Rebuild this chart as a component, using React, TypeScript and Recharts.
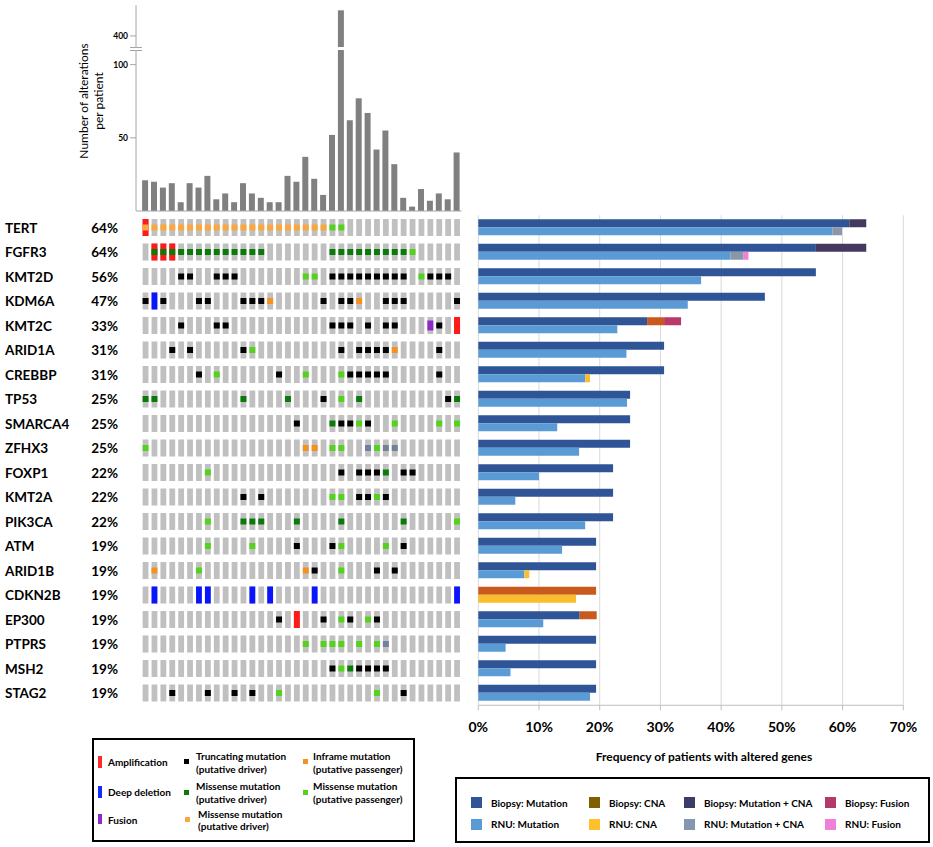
import React from 'react';
import { BarChart, Bar, XAxis, YAxis, CartesianGrid, ScatterChart, Scatter } from 'recharts';

// alterations per patient (36 patients, one column each)
const ALTERATION_COUNTS = [
  21, 20, 16, 19, 6, 19, 16, 24, 8, 12, 6, 19, 12, 9, 6, 6, 24, 20,
  37, 22, 11, 52, 458, 62, 77, 67, 42, 55, 32, 9, 3, 15, 7, 12, 8, 40,
];
const PATIENTS = ALTERATION_COUNTS.map((_, i) => `P${i + 1}`);

const GENES = [
  'TERT', 'FGFR3', 'KMT2D', 'KDM6A', 'KMT2C', 'ARID1A', 'CREBBP', 'TP53', 'SMARCA4', 'ZFHX3',
  'FOXP1', 'KMT2A', 'PIK3CA', 'ATM', 'ARID1B', 'CDKN2B', 'EP300', 'PTPRS', 'MSH2', 'STAG2',
];
const GENE_PCT = [
  '64%', '64%', '56%', '47%', '33%', '31%', '31%', '25%', '25%', '25%',
  '22%', '22%', '22%', '19%', '19%', '19%', '19%', '19%', '19%', '19%',
];

// oncoprint: patient columns altered, per gene (same order as GENES)
const AMPLIFICATION = [[0], [1, 2, 3], [], [], [35], [], [], [], [], [], [], [], [], [], [], [], [17], [], [], []];
const DEEP_DELETION = [[], [], [], [1], [], [], [], [], [], [], [], [], [], [], [], [1, 6, 7, 12, 14, 19, 35], [], [], [], []];
const FUSION = [[], [], [], [], [32], [], [], [], [], [], [], [], [], [], [], [], [], [], [], []];
const TRUNCATING = [
  [], [],
  [4, 5, 8, 9, 10, 21, 22, 23, 24, 25, 26, 27, 28, 29, 32, 33, 34],
  [0, 2, 6, 7, 11, 12, 13, 20, 22, 23, 27, 28, 29, 35],
  [4, 8, 9, 21, 22, 23, 25, 27, 28, 33],
  [3, 5, 11, 22, 24, 25, 26, 27, 33],
  [6, 15, 23, 24, 25, 26, 27, 33],
  [20, 34],
  [17, 22, 23, 25],
  [],
  [22, 24, 25, 26, 29, 30],
  [11, 13, 24, 25, 27],
  [],
  [17, 21, 29],
  [19, 26, 28],
  [],
  [15, 20, 23, 26],
  [],
  [21, 24, 25, 26, 27],
  [3, 7, 10, 12, 29],
];
const MISSENSE_DRIVER = [
  [],
  [1, 2, 3, 4, 5, 6, 7, 8, 9, 10, 11, 12, 13, 21, 22, 23, 24, 25, 26, 27, 28, 29],
  [], [], [], [], [],
  [0, 1, 11, 16, 24, 35],
  [21],
  [],
  [27],
  [],
  [11, 12, 13, 17, 22, 29],
  [], [], [], [], [],
  [23],
  [],
];
const MISSENSE_PASSENGER = [
  [21, 22], [30], [18, 19, 31], [], [], [12], [8, 18, 22], [22], [24, 28, 33, 35], [0, 21, 22, 26],
  [7], [21, 22, 26], [7, 35], [7, 12, 22, 27], [6, 22], [], [22, 25], [18, 20, 21, 22, 24, 26], [22], [15, 26],
];
const MISSENSE_DRIVER_ORANGE = [
  [0, 1, 2, 3, 4, 5, 6, 7, 8, 9, 10, 11, 12, 13, 14, 15, 16, 17, 18, 19, 20],
  [], [], [], [], [], [], [], [], [], [], [], [], [], [], [], [], [], [], [],
];
const INFRAME = [[], [], [], [14, 24], [], [28], [], [], [], [18, 19], [], [], [], [], [1, 18], [], [], [], [], []];
const OTHER_MUT = [[], [], [], [], [], [], [], [], [], [25, 27, 28], [], [], [], [], [], [], [], [27], [], []];

// frequency of patients with altered genes (%)
const BIOPSY_MUT = [61.1, 55.6, 55.6, 47.2, 27.8, 30.6, 30.6, 25.0, 25.0, 25.0, 22.2, 22.2, 22.2, 19.4, 19.4, 0, 16.7, 19.4, 19.4, 19.4];
const BIOPSY_CNA = [0, 0, 0, 0, 2.8, 0, 0, 0, 0, 0, 0, 0, 0, 0, 0, 19.4, 2.8, 0, 0, 0];
const BIOPSY_MUT_CNA = [2.8, 8.3, 0, 0, 0, 0, 0, 0, 0, 0, 0, 0, 0, 0, 0, 0, 0, 0, 0, 0];
const BIOPSY_FUSION = [0, 0, 0, 0, 2.8, 0, 0, 0, 0, 0, 0, 0, 0, 0, 0, 0, 0, 0, 0, 0];
const RNU_MUT = [58.3, 41.5, 36.7, 34.5, 22.9, 24.4, 17.6, 24.5, 13.0, 16.6, 10.0, 6.1, 17.6, 13.8, 7.6, 0, 10.7, 4.5, 5.3, 18.4];
const RNU_CNA = [0, 0, 0, 0, 0, 0, 0.8, 0, 0, 0, 0, 0, 0, 0, 0.8, 16.1, 0, 0, 0, 0];
const RNU_MUT_CNA = [1.6, 2.2, 0, 0, 0, 0, 0, 0, 0, 0, 0, 0, 0, 0, 0, 0, 0, 0, 0, 0];
const RNU_FUSION = [0, 0.8, 0, 0, 0, 0, 0, 0, 0, 0, 0, 0, 0, 0, 0, 0, 0, 0, 0, 0];
const FREQ_TICKS = [0, 10, 20, 30, 40, 50, 60, 70];

const AXIS = '#a6a6a6';
const FONT = 'Lato, "Open Sans", sans-serif';

const countData = PATIENTS.map((p, i) => ({ patient: p, count: ALTERATION_COUNTS[i] }));
const upperData = PATIENTS.map((p, i) => ({ patient: p, count: ALTERATION_COUNTS[i] > 375 ? ALTERATION_COUNTS[i] : null }));

const toPoints = (rows: number[][]) =>
  rows.flatMap((cols, g) => cols.map((c) => ({ x: c, y: g })));
const bgCells = GENES.flatMap((_, g) => PATIENTS.map((__, c) => ({ x: c, y: g })));

const freqData = GENES.map((gene, i) => ({
  gene,
  biopsyMut: BIOPSY_MUT[i],
  biopsyCna: BIOPSY_CNA[i],
  biopsyMutCna: BIOPSY_MUT_CNA[i],
  biopsyFusion: BIOPSY_FUSION[i],
  rnuMut: RNU_MUT[i],
  rnuCna: RNU_CNA[i],
  rnuMutCna: RNU_MUT_CNA[i],
  rnuFusion: RNU_FUSION[i],
}));

const cell = (w: number, h: number, fill: string) => (p: any) =>
  <rect x={p.cx - w / 2} y={p.cy - h / 2} width={w} height={h} fill={fill} />;

const GeneTick = (props: any) => {
  const { y, payload } = props;
  return (
    <g fontFamily={FONT} fontWeight="bold" fontSize={13.5} fill="#000">
      <text x={5} y={y} dominantBaseline="central">{GENES[payload.value]}</text>
      <text x={118} y={y} dominantBaseline="central" textAnchor="end">{GENE_PCT[payload.value]}</text>
    </g>
  );
};

const Txt = ({ x, y, size = 10, children }: any) => (
  <div style={{ position: 'absolute', left: x, top: y, transform: 'translateY(-50%)', fontSize: size, fontWeight: 'bold', lineHeight: 1, whiteSpace: 'nowrap' }}>
    {children}
  </div>
);
const Sw = ({ x, y, w, h, c }: any) => (
  <div style={{ position: 'absolute', left: x, top: y, width: w, height: h, background: c }} />
);

const RIGHT_LEGEND = [
  ['Biopsy: Mutation', '#2F5597'], ['Biopsy: CNA', '#7F6000'], ['Biopsy: Mutation + CNA', '#3C3C6A'], ['Biopsy: Fusion', '#B5386A'],
  ['RNU: Mutation', '#5B9BD5'], ['RNU: CNA', '#FFC02B'], ['RNU: Mutation + CNA', '#8497B0'], ['RNU: Fusion', '#F07FD8'],
];
const LEG_X = [471, 589, 684, 825];

export default function App() {
  const yTick = { fontSize: 8.5, fontWeight: 'bold', fill: '#000', fontFamily: FONT };
  return (
    <div style={{ position: 'absolute', left: 0, top: 0, width: 933, height: 847, background: '#fff', fontFamily: FONT, color: '#000' }}>
      {/* top: alterations per patient, upper part above the axis break */}
      <div style={{ position: 'absolute', left: 0, top: 0 }}>
        <BarChart width={470} height={47} data={upperData} margin={{ top: 5, right: 8.5, bottom: 0, left: 100 }}>
          <XAxis dataKey="patient" hide padding={{ left: 5.1, right: 0 }} />
          <YAxis width={36} domain={[375, 470]} ticks={[400]} allowDataOverflow tick={yTick}
            axisLine={{ stroke: AXIS }} tickLine={{ stroke: AXIS }} tickSize={6} tickMargin={2} />
          <Bar dataKey="count" fill="#808080" barSize={6} isAnimationActive={false} />
        </BarChart>
      </div>
      <div style={{ position: 'absolute', left: 0, top: 40 }}>
        <BarChart width={470} height={172} data={countData} margin={{ top: 10, right: 8.5, bottom: 0, left: 100 }}>
          <XAxis dataKey="patient" tick={false} tickLine={false} height={1} axisLine={{ stroke: AXIS }} padding={{ left: 5.1, right: 0 }} />
          <YAxis width={36} domain={[0, 110]} ticks={[50, 100]} allowDataOverflow tick={yTick}
            axisLine={{ stroke: AXIS }} tickLine={{ stroke: AXIS }} tickSize={6} tickMargin={2} />
          <Bar dataKey="count" fill="#808080" barSize={6} isAnimationActive={false} />
        </BarChart>
      </div>
      <svg style={{ position: 'absolute', left: 0, top: 0, pointerEvents: 'none' }} width={150} height={215}>
        <line x1={130} x2={142} y1={47.5} y2={47.5} stroke={AXIS} />
        <line x1={130} x2={142} y1={50.5} y2={50.5} stroke={AXIS} />
        <g fontFamily={FONT} fontSize={12} fill="#000" textAnchor="middle" dominantBaseline="central">
          <text transform="translate(83,101) rotate(-90)">Number of alterations</text>
          <text transform="translate(98,101) rotate(-90)">per patient</text>
        </g>
      </svg>

      {/* oncoprint */}
      <div style={{ position: 'absolute', left: 0, top: 210 }}>
        <ScatterChart width={470} height={500} margin={{ top: 5.25, right: 8.5, bottom: 4.75, left: 0 }}>
          <XAxis type="number" dataKey="x" domain={[-0.5, 35.5]} hide />
          <YAxis type="number" dataKey="y" domain={[-0.5, 19.5]} reversed ticks={GENES.map((_, i) => i)} interval={0}
            width={141.1} axisLine={false} tickLine={false} tick={(p: any) => <GeneTick {...p} />} />
          <Scatter data={bgCells} shape={cell(5.8, 17, '#C0C0C0')} isAnimationActive={false} />
          <Scatter data={toPoints(AMPLIFICATION)} shape={cell(6, 17, '#FF1A1A')} isAnimationActive={false} />
          <Scatter data={toPoints(DEEP_DELETION)} shape={cell(5.8, 17, '#0A14FF')} isAnimationActive={false} />
          <Scatter data={toPoints(FUSION)} shape={cell(6, 10, '#8E2BC8')} isAnimationActive={false} />
          <Scatter data={toPoints(TRUNCATING)} shape={cell(6, 6, '#000000')} isAnimationActive={false} />
          <Scatter data={toPoints(MISSENSE_DRIVER)} shape={cell(6, 6, '#0B7A0B')} isAnimationActive={false} />
          <Scatter data={toPoints(MISSENSE_PASSENGER)} shape={cell(6, 6, '#55D21E')} isAnimationActive={false} />
          <Scatter data={toPoints(MISSENSE_DRIVER_ORANGE)} shape={cell(6, 6, '#FBA740')} isAnimationActive={false} />
          <Scatter data={toPoints(INFRAME)} shape={cell(6, 6, '#F6901E')} isAnimationActive={false} />
          <Scatter data={toPoints(OTHER_MUT)} shape={cell(6, 6, '#6F819C')} isAnimationActive={false} />
        </ScatterChart>
      </div>

      {/* frequency of altered genes */}
      <div style={{ position: 'absolute', left: 460, top: 210 }}>
        <BarChart layout="vertical" width={473} height={555.25} data={freqData} barGap={0} barSize={8}
          margin={{ top: 5.25, right: 29.7, bottom: 0, left: 18.3 }}>
          <CartesianGrid horizontal={false} stroke="#d9d9d9" />
          <XAxis type="number" domain={[0, 70]} ticks={FREQ_TICKS} tickFormatter={(v: number) => `${v}%`} height={60}
            axisLine={{ stroke: '#bfbfbf' }} tickLine={{ stroke: '#bfbfbf' }} tickSize={5} tickMargin={12}
            tick={{ fontSize: 14, fontWeight: 'bold', fill: '#000', fontFamily: FONT }} />
          <YAxis type="category" dataKey="gene" hide />
          <Bar stackId="b" dataKey="biopsyMut" fill="#2F5597" isAnimationActive={false} />
          <Bar stackId="b" dataKey="biopsyCna" fill="#C85A1E" isAnimationActive={false} />
          <Bar stackId="b" dataKey="biopsyMutCna" fill="#44395F" isAnimationActive={false} />
          <Bar stackId="b" dataKey="biopsyFusion" fill="#B8396A" isAnimationActive={false} />
          <Bar stackId="r" dataKey="rnuMut" fill="#5B9BD5" isAnimationActive={false} />
          <Bar stackId="r" dataKey="rnuCna" fill="#FABD2C" isAnimationActive={false} />
          <Bar stackId="r" dataKey="rnuMutCna" fill="#8A97AB" isAnimationActive={false} />
          <Bar stackId="r" dataKey="rnuFusion" fill="#F07FD8" isAnimationActive={false} />
        </BarChart>
      </div>
      <div style={{ position: 'absolute', left: 554, top: 757, width: 300, textAlign: 'center', transform: 'translateY(-50%)', fontSize: 12, fontWeight: 'bold', lineHeight: 1 }}>
        Frequency of patients with altered genes
      </div>

      {/* oncoprint legend */}
      <div style={{ position: 'absolute', left: 92, top: 738, width: 323, height: 104, border: '2px solid #000', boxSizing: 'border-box' }} />
      <Sw x={98} y={756} w={3.5} h={12} c="#FF2A2A" />
      <Txt x={108} y={762}>Amplification</Txt>
      <Sw x={98} y={786} w={3.5} h={12} c="#1428FF" />
      <Txt x={108} y={792}>Deep deletion</Txt>
      <Sw x={98} y={814} w={3.5} h={10} c="#8E2BC8" />
      <Txt x={108} y={820}>Fusion</Txt>
      <Sw x={184} y={759} w={5} h={5} c="#000" />
      <Txt x={196} y={756}>Truncating mutation</Txt>
      <Txt x={196} y={768.5}>(putative driver)</Txt>
      <Sw x={184} y={790} w={5} h={5} c="#0B7A0B" />
      <Txt x={196} y={786}>Missense mutation</Txt>
      <Txt x={196} y={798.5}>(putative driver)</Txt>
      <Sw x={185} y={817} w={5} h={5} c="#FBA740" />
      <Txt x={198} y={814}>Missense mutation</Txt>
      <Txt x={198} y={826}>(putative driver)</Txt>
      <Sw x={303} y={759} w={5} h={5} c="#F6901E" />
      <Txt x={313} y={756}>Inframe mutation</Txt>
      <Txt x={313} y={768.5}>(putative passenger)</Txt>
      <Sw x={303} y={790} w={5} h={5} c="#55D21E" />
      <Txt x={313} y={786}>Missense mutation</Txt>
      <Txt x={313} y={798.5}>(putative passenger)</Txt>

      {/* frequency legend */}
      <div style={{ position: 'absolute', left: 455, top: 777, width: 475, height: 66, border: '2px solid #000', boxSizing: 'border-box' }} />
      {RIGHT_LEGEND.map(([label, c], i) => {
        const col = i % 4;
        const cy = i < 4 ? 802.7 : 824;
        return (
          <React.Fragment key={label}>
            <Sw x={LEG_X[col]} y={cy - 5.5} w={11} h={11} c={c} />
            <Txt x={LEG_X[col] + 20} y={cy}>{label}</Txt>
          </React.Fragment>
        );
      })}
    </div>
  );
}
